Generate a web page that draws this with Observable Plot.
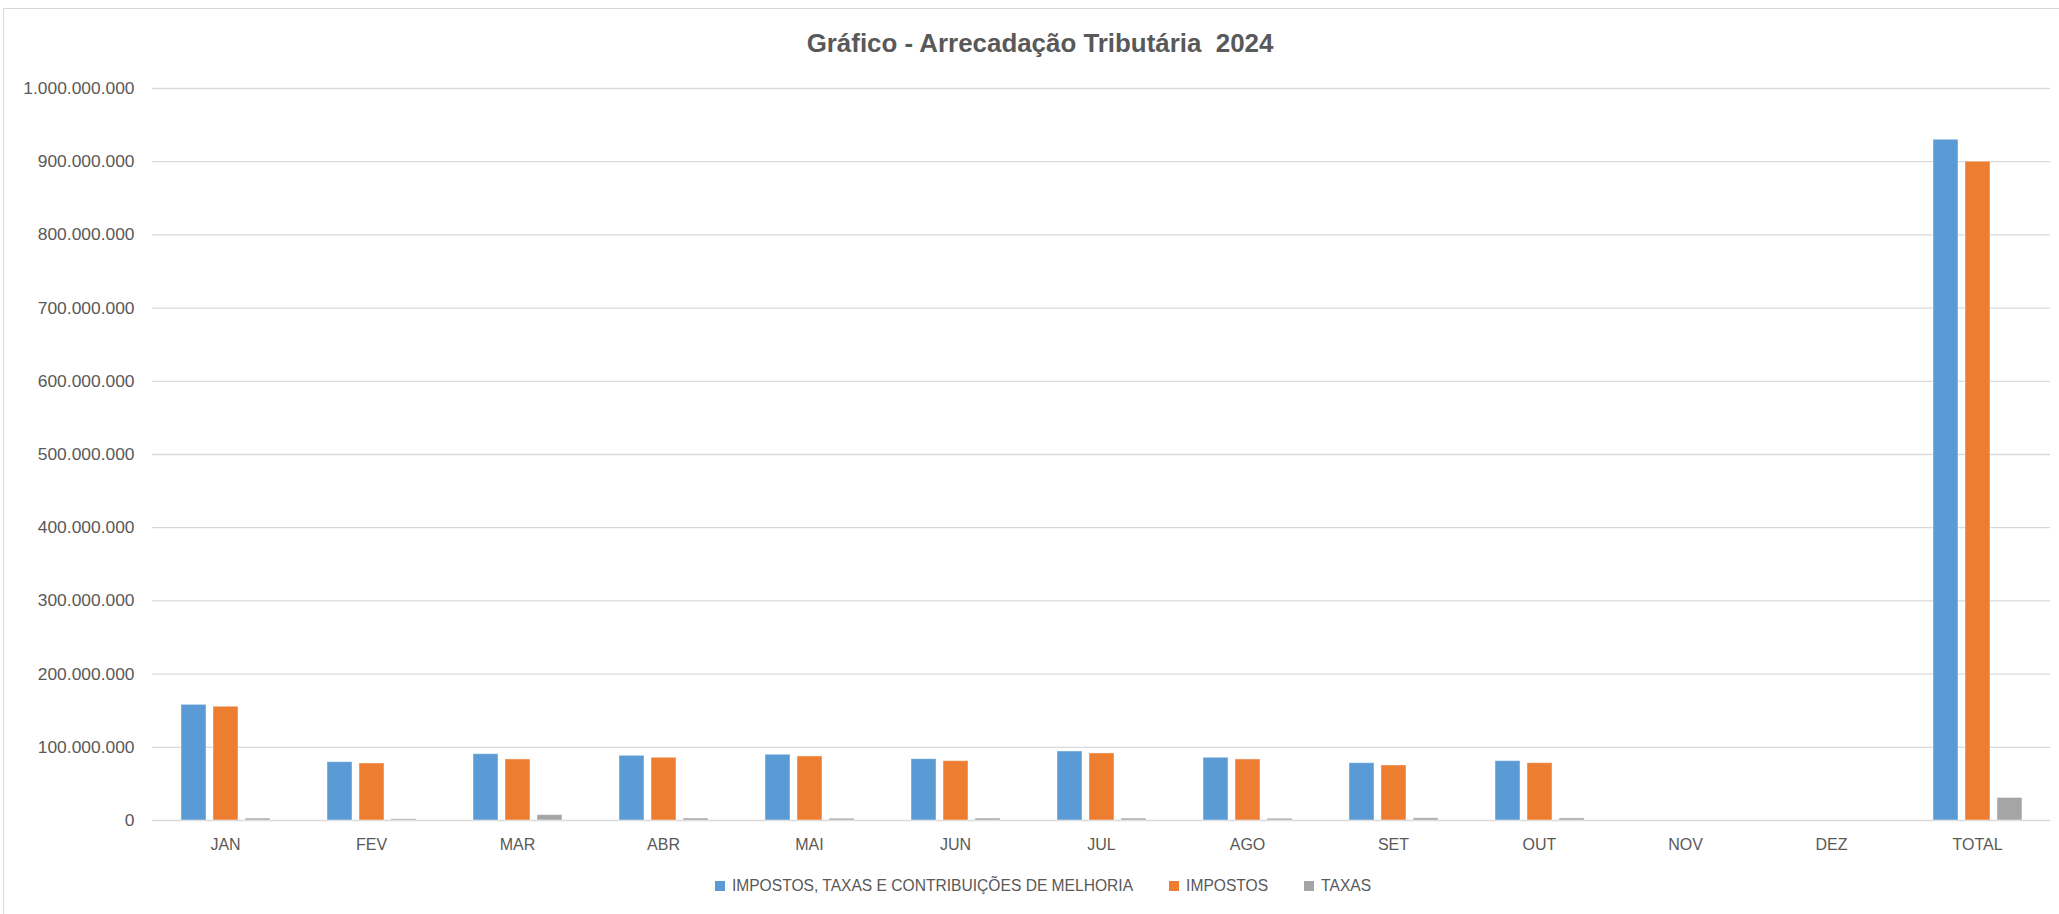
<!DOCTYPE html>
<html><head><meta charset="utf-8">
<script src="https://cdn.jsdelivr.net/npm/d3@7"></script>
<script src="https://cdn.jsdelivr.net/npm/@observablehq/plot@0.6"></script>
<style>
body{margin:0;background:#fff;font-family:"Liberation Sans",Arial,sans-serif;color:#595959;}
#frame{position:absolute;left:3px;top:8px;width:2200px;height:1000px;border-left:1px solid #d9d9d9;border-top:1px solid #d9d9d9;}
#title{position:absolute;left:0;top:28px;width:2080px;text-align:center;font-weight:bold;font-size:25.9px;line-height:30px;}
#chart{position:absolute;left:0;top:70px;}
#legend{position:absolute;left:0;top:874px;width:2086px;display:flex;justify-content:center;align-items:center;font-size:15.6px;line-height:24px;}
.item{display:flex;align-items:center;margin:0 18px;}
.sw{width:10px;height:10px;margin-right:7px;}
</style></head><body>
<div id="frame"></div>
<div id="title">Gráfico - Arrecadação Tributária&nbsp; 2024</div>
<div id="chart"></div>
<div id="legend"></div>
<script>
const months = ["JAN","FEV","MAR","ABR","MAI","JUN","JUL","AGO","SET","OUT","NOV","DEZ","TOTAL"];
const seriesNames = ["IMPOSTOS, TAXAS E CONTRIBUIÇÕES DE MELHORIA","IMPOSTOS","TAXAS"];
const colors = ["#5B9BD5","#ED7D31","#A5A5A5"];
const impostosTaxasContrib = [158000000, 79700000, 90600000, 88400000, 89800000, 83800000, 94300000, 85700000, 78300000, 81100000, 0, 0, 930000000];
const impostos = [155400000, 77900000, 83400000, 85700000, 87500000, 81100000, 91600000, 83400000, 75200000, 78300000, 0, 0, 900000000];
const taxas = [2600000, 1800000, 7400000, 2700000, 2400000, 2700000, 2600000, 2400000, 3000000, 2800000, 0, 0, 30800000];
const yTicks = [0,100000000,200000000,300000000,400000000,500000000,600000000,700000000,800000000,900000000,1000000000];

const seriesValues = [impostosTaxasContrib, impostos, taxas];
const data = [];
months.forEach((m, i) => {
  seriesValues.forEach((arr, j) => {
    data.push({month: m, series: seriesNames[j], value: arr[i]});
  });
});

const fmt = d3.formatLocale({decimal: ",", thousands: ".", grouping: [3], currency: ["R$", ""]}).format(",.0f");

const chart = Plot.plot({
  width: 2059, height: 800,
  marginLeft: 147, marginRight: 4, marginTop: 18, marginBottom: 50,
  style: {fontFamily: "Liberation Sans, Arial, sans-serif", color: "#595959", background: "transparent"},
  fx: {domain: months, padding: 0, label: null},
  x: {domain: seriesNames, paddingInner: 0.23, paddingOuter: 0.87, axis: null},
  y: {domain: [0, 1000000000]},
  color: {domain: seriesNames, range: colors},
  marks: [
    Plot.gridY(yTicks, {stroke: "#d9d9d9", strokeOpacity: 1, strokeWidth: 1.3}),
    Plot.axisY(yTicks, {tickSize: 0, tickPadding: 18, tickFormat: fmt, fontSize: 17.4, label: null}),
    Plot.axisFx({anchor: "bottom", tickSize: 0, tickPadding: 18, fontSize: 16, label: null}),
    Plot.barY(data, {fx: "month", x: "series", y: "value", fill: "series", stroke: "white", strokeOpacity: 0.45, strokeWidth: 1})
  ]
});
document.getElementById("chart").appendChild(chart);

const legend = document.getElementById("legend");
seriesNames.forEach((s, i) => {
  const it = document.createElement("div");
  it.className = "item";
  const sw = document.createElement("span");
  sw.className = "sw";
  sw.style.background = colors[i];
  const t = document.createElement("span");
  t.textContent = s;
  it.appendChild(sw); it.appendChild(t);
  legend.appendChild(it);
});
</script>
</body></html>
